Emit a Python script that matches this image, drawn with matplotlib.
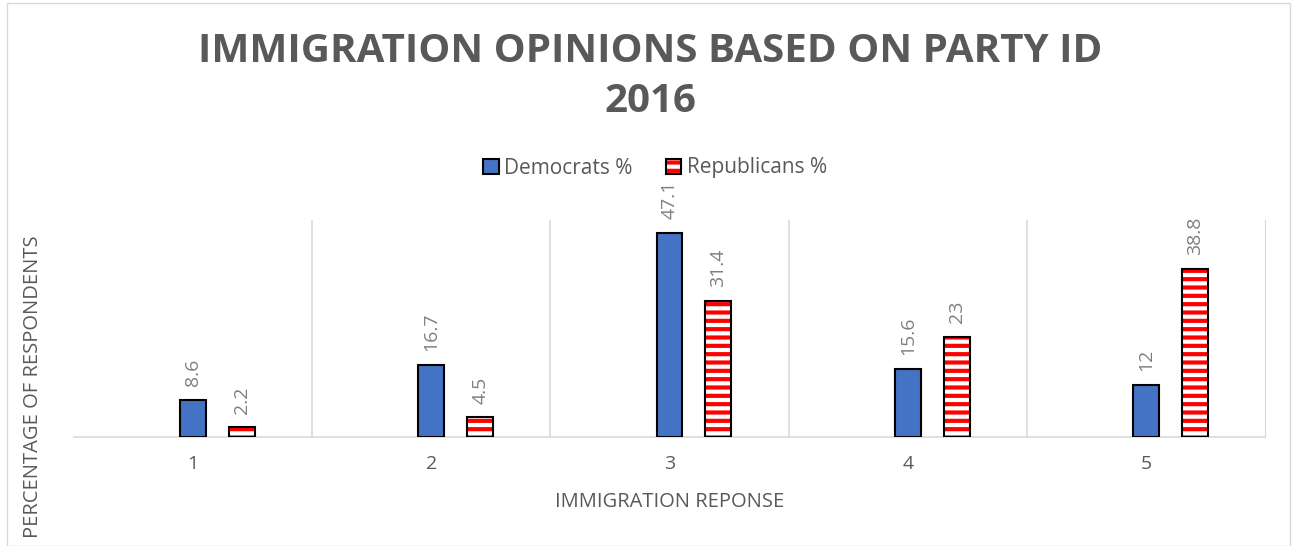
import numpy as np
import matplotlib
matplotlib.use("Agg")
import matplotlib.pyplot as plt
from matplotlib.patches import Patch, Rectangle
from matplotlib.legend_handler import HandlerTuple

plt.rcParams['font.family'] = ['Open Sans', 'DejaVu Sans']
plt.rcParams['hatch.linewidth'] = 3.0

# data
responses = ["1", "2", "3", "4", "5"]
democrats = [8.6, 16.7, 47.1, 15.6, 12]
republicans = [2.2, 4.5, 31.4, 23, 38.8]
dem_labels = ["8.6", "16.7", "47.1", "15.6", "12"]
rep_labels = ["2.2", "4.5", "31.4", "23", "38.8"]

blue = "#4472C4"
grey_text = "#595959"
grid_grey = "#D9D9D9"

fig = plt.figure(figsize=(12.95, 5.46), dpi=100)
ax = fig.add_axes([74 / 1295, (546 - 437) / 546, (1265 - 74) / 1295, (437 - 220) / 546])

x = np.arange(1, len(responses) + 1)
w = 0.109
off = 0.205

ax.bar(x, democrats, width=w, color=blue, edgecolor="black", linewidth=1.5, zorder=3)
# red striped bars: hatch layer then black outline
ax.bar(x + off, republicans, width=w, color="white", edgecolor="red", hatch="--",
       linewidth=0, zorder=3)
ax.bar(x + off, republicans, width=w, color="none", edgecolor="black", linewidth=1.5, zorder=4)

for xi, v, s in zip(x, democrats, dem_labels):
    ax.annotate(s, (xi, v), xytext=(0, 10), textcoords="offset points", rotation=90,
                ha="center", va="bottom", color="#7F7F7F", fontsize=14)
for xi, v, s in zip(x + off, republicans, rep_labels):
    ax.annotate(s, (xi, v), xytext=(0, 10), textcoords="offset points", rotation=90,
                ha="center", va="bottom", color="#7F7F7F", fontsize=14)

ax.set_xlim(0.5, 5.5)
ax.set_ylim(0, 50)
ax.set_xticks(x)
ax.set_xticklabels(responses, color=grey_text, fontsize=14)
ax.tick_params(axis="x", length=0, pad=13)
ax.set_yticks([])
for b in np.arange(1.5, 5.5, 1):
    ax.axvline(b, color=grid_grey, linewidth=1.2, zorder=1)
for side in ["top", "left"]:
    ax.spines[side].set_visible(False)
ax.spines["right"].set_color(grid_grey)
ax.spines["bottom"].set_color(grid_grey)
ax.spines["bottom"].set_linewidth(1.2)

fig.text(670 / 1295, 1 - 502 / 546, "IMMIGRATION REPONSE",
         ha="center", va="center", color=grey_text, fontsize=14.5)
fig.text(33 / 1295, 1 - 387 / 546, "PERCENTAGE OF RESPONDENTS", rotation=90,
         ha="center", va="center", color=grey_text, fontsize=14.5)

fig.text(650 / 1295, 1 - 52 / 546, "IMMIGRATION OPINIONS BASED ON PARTY ID",
         ha="center", va="center", color=grey_text, fontsize=29, fontweight="bold")
fig.text(650 / 1295, 1 - 102 / 546, "2016",
         ha="center", va="center", color=grey_text, fontsize=29, fontweight="bold")

dem_patch = Patch(facecolor=blue, edgecolor="black", linewidth=1.5)
rep_hatch = Patch(facecolor="white", edgecolor="red", hatch="--", linewidth=0)
rep_edge = Patch(facecolor="none", edgecolor="black", linewidth=1.5)
fig.legend([dem_patch, (rep_hatch, rep_edge)], ["Democrats %", "Republicans %"],
           handler_map={tuple: HandlerTuple(ndivide=1)},
           loc="center", bbox_to_anchor=(655 / 1295, 1 - 168 / 546), ncol=2,
           frameon=False, fontsize=15, labelcolor=grey_text,
           handlelength=0.75, handleheight=0.75, handletextpad=0.25, columnspacing=1.6)

# chart border
fig.patches.append(Rectangle((7 / 1295, 0), 1283 / 1295, 543 / 546, transform=fig.transFigure,
                             fill=False, edgecolor=grid_grey, linewidth=1))

fig.savefig("out.png", dpi=100)
